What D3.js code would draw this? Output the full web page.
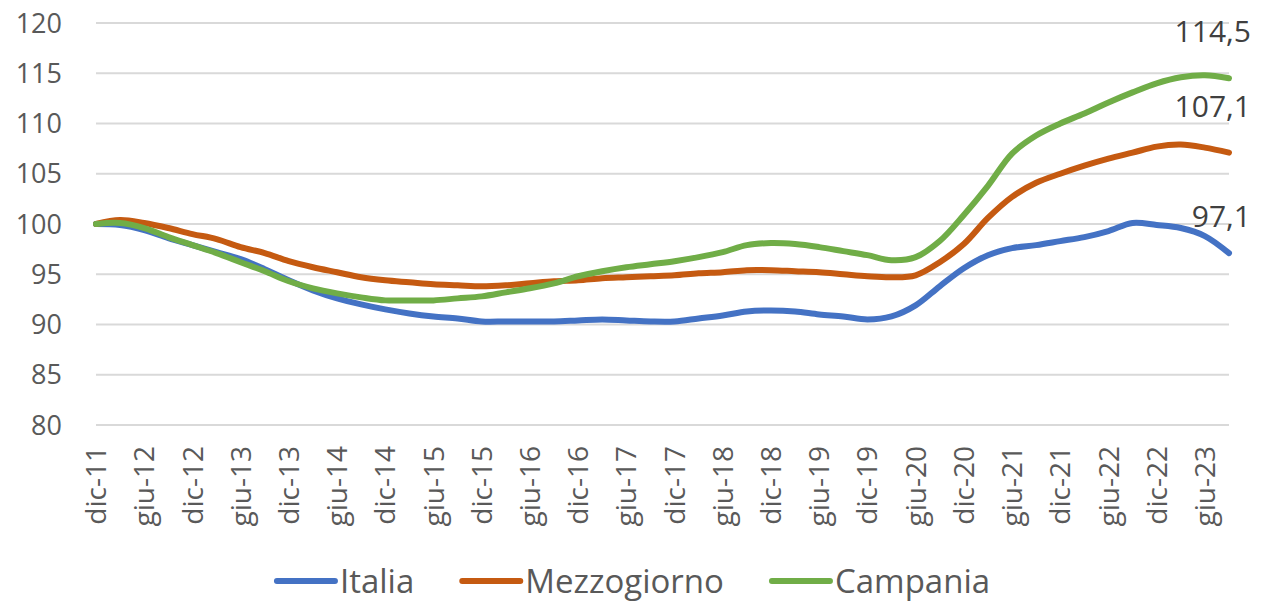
<!DOCTYPE html>
<html>
<head>
<meta charset="utf-8">
<script src="https://cdn.jsdelivr.net/npm/d3@7"></script>
<style>
  body { margin: 0; background: #fff; }
  text { font-family: 'Open Sans', sans-serif; fill: #595959; }
</style>
</head>
<body>
<div class="chart"></div>
<script>
// quarterly categories, dic-11 .. set-23
const quarters = [
  'dic-11', 'mar-12', 'giu-12', 'set-12', 'dic-12', 'mar-13', 'giu-13', 'set-13',
  'dic-13', 'mar-14', 'giu-14', 'set-14', 'dic-14', 'mar-15', 'giu-15', 'set-15',
  'dic-15', 'mar-16', 'giu-16', 'set-16', 'dic-16', 'mar-17', 'giu-17', 'set-17',
  'dic-17', 'mar-18', 'giu-18', 'set-18', 'dic-18', 'mar-19', 'giu-19', 'set-19',
  'dic-19', 'mar-20', 'giu-20', 'set-20', 'dic-20', 'mar-21', 'giu-21', 'set-21',
  'dic-21', 'mar-22', 'giu-22', 'set-22', 'dic-22', 'mar-23', 'giu-23', 'set-23'
];

const italia = [
  100.0, 99.9, 99.4, 98.6, 97.9, 97.2, 96.5, 95.5,
  94.4, 93.4, 92.6, 92.0, 91.5, 91.1, 90.8, 90.6,
  90.3, 90.3, 90.3, 90.3, 90.4, 90.5, 90.4, 90.3,
  90.3, 90.6, 90.9, 91.3, 91.4, 91.3, 91.0, 90.8,
  90.5, 90.8, 91.9, 93.8, 95.6, 96.9, 97.6, 97.9,
  98.3, 98.7, 99.3, 100.1, 99.9, 99.6, 98.8, 97.1
];

const mezzogiorno = [
  100.0, 100.4, 100.1, 99.6, 99.0, 98.5, 97.7, 97.1,
  96.3, 95.7, 95.2, 94.7, 94.4, 94.2, 94.0, 93.9,
  93.8, 93.9, 94.1, 94.3, 94.4, 94.6, 94.7, 94.8,
  94.9, 95.1, 95.2, 95.4, 95.4, 95.3, 95.2, 95.0,
  94.8, 94.7, 94.9, 96.2, 98.0, 100.6, 102.7, 104.1,
  105.0, 105.8, 106.5, 107.1, 107.7, 107.9, 107.6, 107.1
];

const campania = [
  100.0, 100.1, 99.6, 98.7, 97.9, 97.1, 96.2, 95.3,
  94.3, 93.6, 93.1, 92.7, 92.4, 92.4, 92.4, 92.6,
  92.8, 93.2, 93.6, 94.1, 94.8, 95.3, 95.7, 96.0,
  96.3, 96.7, 97.2, 97.9, 98.1, 98.0, 97.7, 97.3,
  96.9, 96.4, 96.7, 98.3, 100.9, 103.8, 107.0, 108.8,
  110.0, 111.0, 112.1, 113.1, 114.0, 114.6, 114.8, 114.5
];

const yTicks = [80, 85, 90, 95, 100, 105, 110, 115, 120];
const seriesNames = ['Italia', 'Mezzogiorno', 'Campania'];
const colors = ['#4472c4', '#c55a11', '#70ad47'];

const series = [italia, mezzogiorno, campania].map((values, i) => ({
  name: seriesNames[i],
  color: colors[i],
  values: values.map((v, j) => ({q: quarters[j], v}))
}));

const W = 1263, H = 604;
const plot = {left: 96, right: 1229, top: 23, bottom: 425};
const fmt = v => d3.format('.1f')(v).replace('.', ',');

const svg = d3.select('.chart')
  .append('svg')
  .attr('width', W)
  .attr('height', H);

const x = d3.scalePoint()
  .domain(quarters)
  .range([plot.left, plot.right]);

const y = d3.scaleLinear()
  .domain([80, 120])
  .range([plot.bottom, plot.top]);

// gridlines
svg.append('g')
  .selectAll('line')
  .data(yTicks)
  .enter()
  .append('line')
  .attr('x1', plot.left)
  .attr('x2', plot.right)
  .attr('y1', d => y(d))
  .attr('y2', d => y(d))
  .style('stroke', '#d9d9d9')
  .style('stroke-width', 2);

// y labels
svg.append('g')
  .selectAll('text')
  .data(yTicks)
  .enter()
  .append('text')
  .attr('x', 62)
  .attr('y', d => y(d))
  .attr('dy', '0.36em')
  .attr('text-anchor', 'end')
  .style('font-size', '27px')
  .text(d => d);

// x labels, every other quarter
const xLabels = quarters.filter((q, i) => i % 2 === 0);
svg.append('g')
  .selectAll('text')
  .data(xLabels)
  .enter()
  .append('text')
  .attr('transform', d => `translate(${x(d)}, 446) rotate(-90)`)
  .attr('dy', '0.36em')
  .attr('text-anchor', 'end')
  .style('font-size', '28px')
  .text(d => d);

const line = d3.line()
  .x(d => x(d.q))
  .y(d => y(d.v))
  .curve(d3.curveCatmullRom.alpha(0.5));

svg.append('g')
  .selectAll('path')
  .data(series)
  .enter()
  .append('path')
  .attr('d', d => line(d.values))
  .style('fill', 'none')
  .style('stroke', d => d.color)
  .style('stroke-width', 6)
  .style('stroke-linejoin', 'round')
  .style('stroke-linecap', 'round');

// end value labels
const labelOffset = [-26, -36, -36];
svg.append('g')
  .selectAll('text')
  .data(series)
  .enter()
  .append('text')
  .attr('x', 1251)
  .attr('y', (d, i) => y(d.values[d.values.length - 1].v) + labelOffset[i])
  .attr('text-anchor', 'end')
  .style('font-size', '30px')
  .style('fill', '#404040')
  .text(d => fmt(d.values[d.values.length - 1].v));

// legend
const legend = svg.append('g');
let lx = 0;
series.forEach((s, i) => {
  const item = legend.append('g').attr('transform', `translate(${lx}, 0)`);
  item.append('line')
    .attr('x1', 0).attr('x2', 58)
    .attr('y1', 0).attr('y2', 0)
    .style('stroke', s.color)
    .style('stroke-width', 6)
    .style('stroke-linecap', 'round');
  const t = item.append('text')
    .attr('x', 63)
    .attr('dy', '0.36em')
    .style('font-size', '33px')
    .text(s.name);
  lx += 63 + t.node().getComputedTextLength() + 48;
});
const legendWidth = lx - 48;
legend.attr('transform', `translate(${(W - legendWidth) / 2 + 2}, 581)`);
</script>
</body>
</html>
